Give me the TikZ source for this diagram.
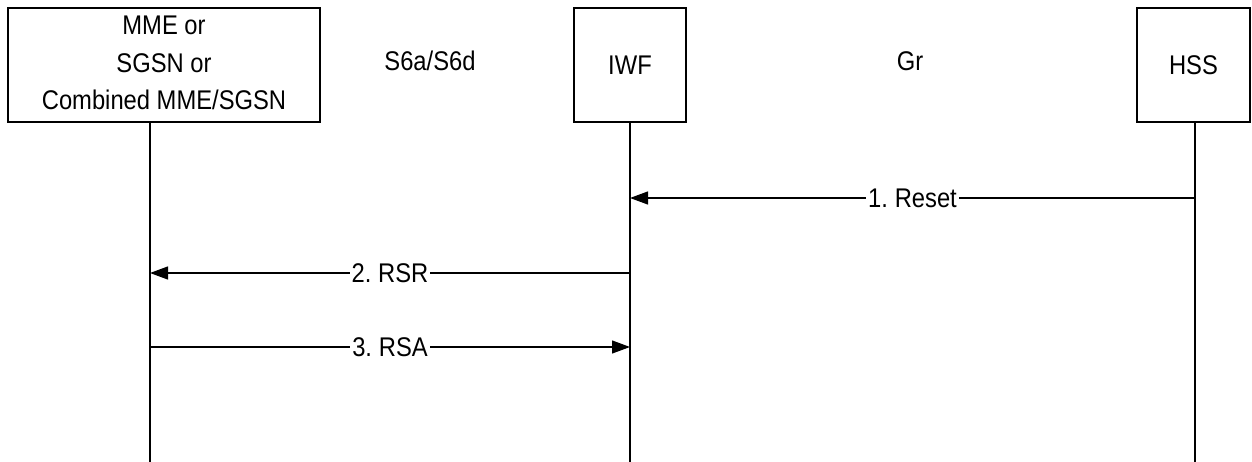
\documentclass[tikz,border=0pt]{standalone}
\usepackage{fontspec}
\setmainfont{Liberation Sans}[FakeStretch=0.88]
\usetikzlibrary{arrows.meta}
\begin{document}
\begin{tikzpicture}[x=1pt,y=-1pt,
  ent/.style={draw,line width=1.2pt,inner sep=0pt,align=center,font=\fontsize{27}{37.5}\selectfont},
  life/.style={line width=1.2pt},
  msg/.style={line width=1.2pt,-{Triangle[length=18pt,width=13pt]}},
  lbl/.style={fill=white,inner sep=2pt,font=\fontsize{27}{30}\selectfont},
  iface/.style={font=\fontsize{27}{30}\selectfont}]
\useasboundingbox (0,0) rectangle (1252,462);
\node[ent,minimum width=312pt,minimum height=114pt] (mme) at (164,65)
  {\raisebox{4pt}{\begin{tabular}{@{}c@{}}MME or\\SGSN or\\Combined MME/SGSN\end{tabular}}};
\node[ent,minimum width=112pt,minimum height=114pt] (iwf) at (630,65) {IWF};
\node[ent,minimum width=113pt,minimum height=114pt] (hss) at (1193.5,65) {HSS};
\node[iface] (s6) at (430,61) {S6a/S6d};
\node[iface] (gr) at (910,61) {Gr};
% lifelines
\coordinate (mmeT) at (150,122);
\coordinate (mmeB) at (150,462);
\coordinate (iwfB) at (630,462);
\coordinate (hssT) at (1195,122);
\coordinate (hssB) at (1195,462);
\draw[life] (mmeT) -- (mmeB);
\draw[life] (iwf.south) -- (iwfB);
\draw[life] (hssT) -- (hssB);
% message anchor points
\coordinate (h1) at (1195,198);
\coordinate (i1) at (630,198);
\coordinate (i2) at (630,273);
\coordinate (m2) at (150,273);
\coordinate (m3) at (150,347);
\coordinate (i3) at (630,347);
\draw[msg] (h1) -- node[lbl] (l1) {1.\kern-2pt{} Reset} (i1);
\draw[msg] (i2) -- node[lbl] (l2) {2.\kern-2pt{} RSR} (m2);
\draw[msg] (m3) -- node[lbl] (l3) {3.\kern-2pt{} RSA} (i3);
\end{tikzpicture}
\end{document}
